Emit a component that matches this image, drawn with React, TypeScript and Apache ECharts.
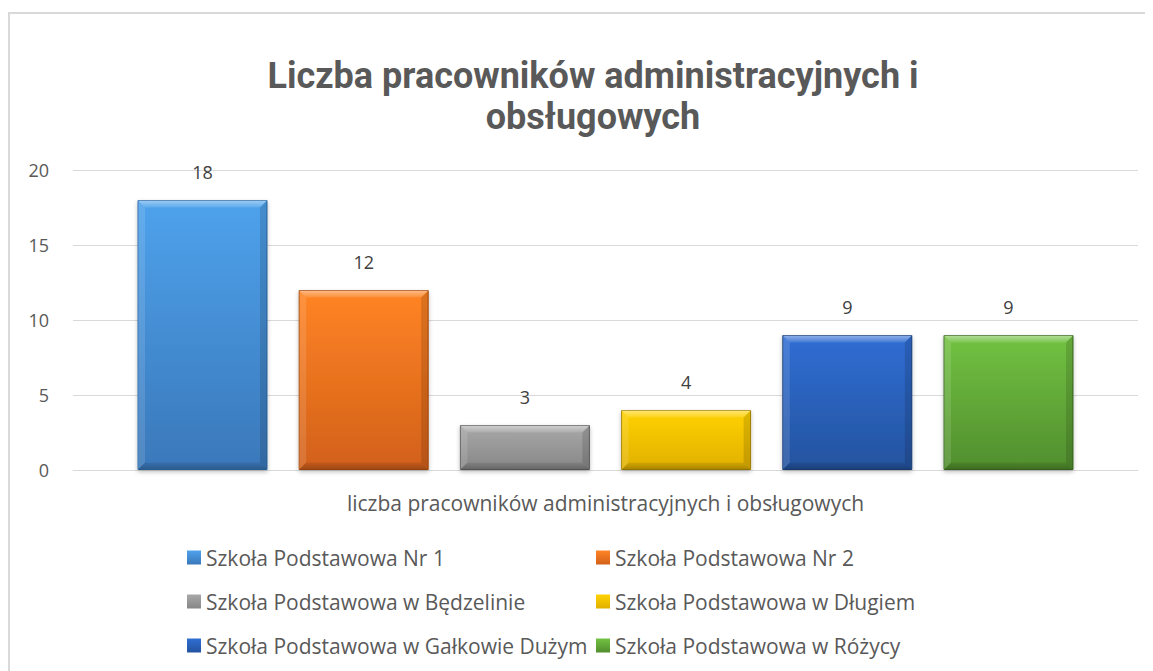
import React, { useEffect, useRef } from "react";
import * as echarts from "echarts";

const categories = ["liczba pracowników administracyjnych i obsługowych"];
const seriesNames = [
  "Szkoła Podstawowa Nr 1",
  "Szkoła Podstawowa Nr 2",
  "Szkoła Podstawowa w Będzelinie",
  "Szkoła Podstawowa w Długiem",
  "Szkoła Podstawowa w Gałkowie Dużym",
  "Szkoła Podstawowa w Różycy",
];
const seriesValues = [18, 12, 3, 4, 9, 9];
const yTicks = [0, 5, 10, 15, 20];
const titleText = "Liczba pracowników administracyjnych i\nobsługowych";

// [top, bottom, border]
const palette = [
  ["#4ea2ec", "#3a78ba", "#2f6aa6"],
  ["#ff8424", "#d2601a", "#a84c0e"],
  ["#a8a8a8", "#878787", "#5e5e5e"],
  ["#ffd200", "#e0b000", "#a88400"],
  ["#306ed4", "#24539f", "#1b417c"],
  ["#72c242", "#518e2e", "#3c6c22"],
];

const FONT = "'Open Sans', 'Noto Sans', sans-serif";
const TITLE_FONT = "Roboto, 'Open Sans', sans-serif";
const BAR_W = 130;
const GAP = 0.24;
const BEVEL = 7;

function fill(i: number) {
  const [top, low] = palette[i];
  return new echarts.graphic.LinearGradient(0, 0, 0, 1, [
    { offset: 0, color: top },
    { offset: 1, color: low },
  ]);
}

export default function App() {
  const ref = useRef<HTMLDivElement>(null);
  useEffect(() => {
    if (!ref.current) return;
    const chart = echarts.init(ref.current, undefined, { renderer: "svg" });
    const series: any[] = seriesNames.map((name, i) => ({
      name,
      type: "bar",
      data: [seriesValues[i]],
      barWidth: BAR_W,
      barGap: GAP * 100 + "%",
      itemStyle: {
        color: fill(i),
        borderColor: palette[i][2],
        borderWidth: 1,
        shadowColor: "rgba(0,0,0,0.25)",
        shadowBlur: 4,
        shadowOffsetY: 2,
      },
      label: {
        show: true,
        position: "top",
        distance: 19,
        color: "#404040",
        fontSize: 18,
        fontFamily: FONT,
      },
    }));
    series.push({
      type: "custom",
      name: "bevel",
      silent: true,
      z: 3,
      data: seriesValues.map((v, i) => [0, v, i]),
      encode: { x: 0, y: 1 },
      renderItem: (params: any, api: any) => {
        const i = api.value(2);
        const n = seriesValues.length;
        const topPt = api.coord([api.value(0), api.value(1)]);
        const basePt = api.coord([api.value(0), 0]);
        const total = n * BAR_W + (n - 1) * BAR_W * GAP;
        const x0 = topPt[0] - total / 2 + i * BAR_W * (1 + GAP) + 0.5;
        const x1 = x0 + BAR_W - 1;
        const y0 = topPt[1] + 0.5;
        const y1 = basePt[1] - 0.5;
        const b = BEVEL;
        return {
          type: "group",
          children: [
            {
              type: "polygon",
              shape: { points: [[x0, y0], [x1, y0], [x1 - b, y0 + b], [x0 + b, y0 + b]] },
              style: {
                fill: new echarts.graphic.LinearGradient(0, 0, 0, 1, [
                  { offset: 0, color: "rgba(255,255,255,0.45)" },
                  { offset: 1, color: "rgba(255,255,255,0.1)" },
                ]),
              },
            },
            {
              type: "polygon",
              shape: { points: [[x0, y0], [x0 + b, y0 + b], [x0 + b, y1 - b], [x0, y1]] },
              style: { fill: "rgba(255,255,255,0.12)" },
            },
            {
              type: "polygon",
              shape: { points: [[x1, y0], [x1, y1], [x1 - b, y1 - b], [x1 - b, y0 + b]] },
              style: { fill: "rgba(0,0,0,0.13)" },
            },
            {
              type: "polygon",
              shape: { points: [[x0, y1], [x0 + b, y1 - b], [x1 - b, y1 - b], [x1, y1]] },
              style: {
                fill: new echarts.graphic.LinearGradient(0, 0, 0, 1, [
                  { offset: 0, color: "rgba(0,0,0,0.08)" },
                  { offset: 1, color: "rgba(0,0,0,0.25)" },
                ]),
              },
            },
          ],
        };
      },
    });
    const legendText = { color: "#595959", fontSize: 21, fontFamily: FONT, lineHeight: 20, height: 20 };
    chart.setOption({
      animation: false,
      backgroundColor: "#ffffff",
      title: {
        text: titleText,
        left: 580,
        top: 42,
        textAlign: "center",
        textStyle: {
          color: "#595959",
          fontSize: 36,
          fontWeight: "bold",
          fontFamily: TITLE_FONT,
          lineHeight: 41,
        },
      },
      graphic: [
        {
          type: "rect",
          shape: { x: 1, y: 5, width: 1400, height: 900 },
          style: { fill: "none", stroke: "#d9d9d9", lineWidth: 2 },
          silent: true,
          z: -10,
        },
      ],
      legend: [
        {
          orient: "vertical",
          left: 174,
          top: 534,
          itemWidth: 14,
          itemHeight: 14,
          itemGap: 23,
          icon: "rect",
          data: [seriesNames[0], seriesNames[2], seriesNames[4]],
          textStyle: legendText,
          itemStyle: { borderWidth: 0 },
        },
        {
          orient: "vertical",
          left: 583,
          top: 534,
          itemWidth: 14,
          itemHeight: 14,
          itemGap: 23,
          icon: "rect",
          data: [seriesNames[1], seriesNames[3], seriesNames[5]],
          textStyle: legendText,
          itemStyle: { borderWidth: 0 },
        },
      ],
      grid: { left: 65, right: 15, top: 162, bottom: 201, containLabel: false },
      xAxis: {
        type: "category",
        data: categories,
        axisLabel: { show: false },
        axisTick: { show: false },
        axisLine: { lineStyle: { color: "#d9d9d9", width: 1 } },
        name: categories[0],
        nameLocation: "middle",
        nameGap: 22,
        nameTextStyle: { color: "#595959", fontSize: 21, fontFamily: FONT },
      },
      yAxis: {
        type: "value",
        min: yTicks[0],
        max: yTicks[yTicks.length - 1],
        interval: 5,
        axisLine: { show: false },
        axisTick: { show: false },
        axisLabel: { color: "#595959", fontSize: 18, fontFamily: FONT, margin: 24 },
        splitLine: { lineStyle: { color: "#d9d9d9", width: 1 } },
      },
      series,
    });
    return () => chart.dispose();
  }, []);
  return <div ref={ref} style={{ width: 1145, height: 663 }} />;
}
